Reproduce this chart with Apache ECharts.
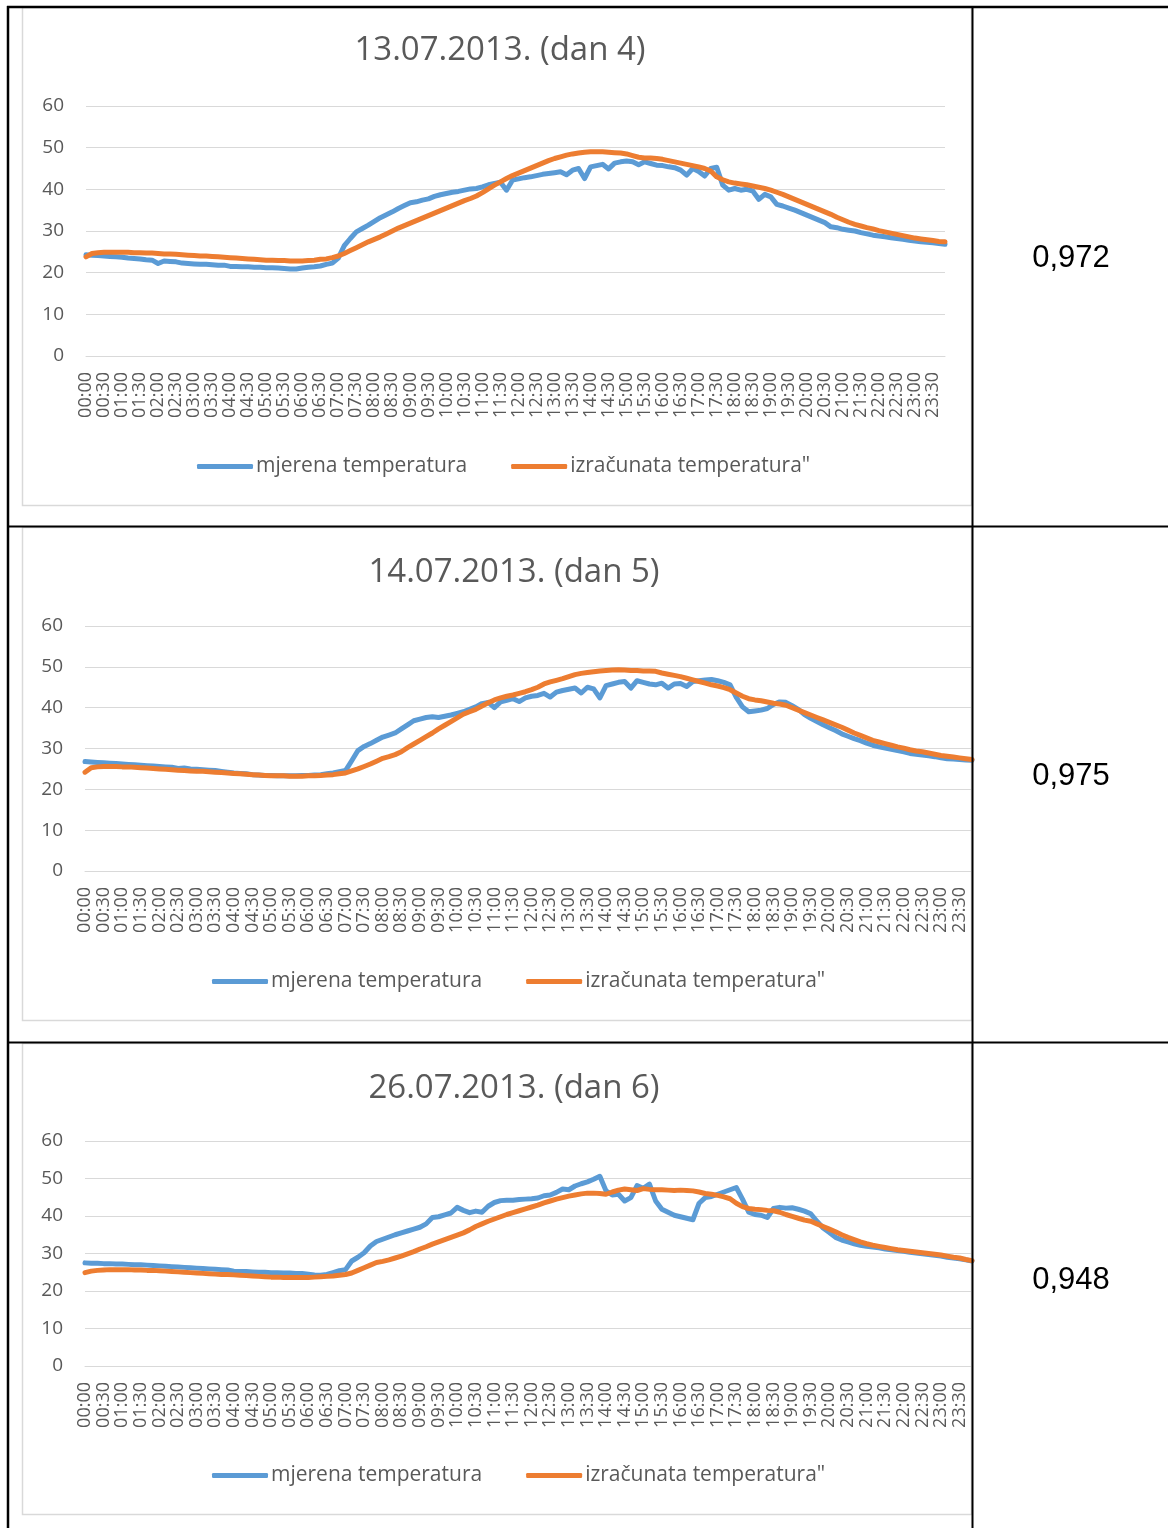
<!DOCTYPE html>
<html>
<head>
<meta charset="utf-8">
<script src="https://cdn.jsdelivr.net/npm/echarts@6/dist/echarts.min.js"></script>
<style>
  html, body { margin: 0; padding: 0; background: #fff; }
  #main { width: 1168px; height: 1528px; }
</style>
</head>
<body>
<div id="main"></div>
<script>
// vremena (svakih 10 min), oznake na osi svakih 30 min
var vremena = [
  '00:00','00:10','00:20','00:30','00:40','00:50','01:00','01:10','01:20','01:30','01:40','01:50',
  '02:00','02:10','02:20','02:30','02:40','02:50','03:00','03:10','03:20','03:30','03:40','03:50',
  '04:00','04:10','04:20','04:30','04:40','04:50','05:00','05:10','05:20','05:30','05:40','05:50',
  '06:00','06:10','06:20','06:30','06:40','06:50','07:00','07:10','07:20','07:30','07:40','07:50',
  '08:00','08:10','08:20','08:30','08:40','08:50','09:00','09:10','09:20','09:30','09:40','09:50',
  '10:00','10:10','10:20','10:30','10:40','10:50','11:00','11:10','11:20','11:30','11:40','11:50',
  '12:00','12:10','12:20','12:30','12:40','12:50','13:00','13:10','13:20','13:30','13:40','13:50',
  '14:00','14:10','14:20','14:30','14:40','14:50','15:00','15:10','15:20','15:30','15:40','15:50',
  '16:00','16:10','16:20','16:30','16:40','16:50','17:00','17:10','17:20','17:30','17:40','17:50',
  '18:00','18:10','18:20','18:30','18:40','18:50','19:00','19:10','19:20','19:30','19:40','19:50',
  '20:00','20:10','20:20','20:30','20:40','20:50','21:00','21:10','21:20','21:30','21:40','21:50',
  '22:00','22:10','22:20','22:30','22:40','22:50','23:00','23:10','23:20','23:30','23:40','23:50'
];

var naslovi = ['13.07.2013. (dan 4)', '14.07.2013. (dan 5)', '26.07.2013. (dan 6)'];
var koeficijenti = ['0,972', '0,975', '0,948'];
var nazivMjerena = 'mjerena temperatura';
var nazivIzracunata = 'izračunata temperatura"';

// dan 4
var mjerena1 = [
  24.3,24.2,24.1,24.0,23.9,23.8,23.7,23.5,23.4,23.3,23.1,23.0,
  22.2,22.8,22.7,22.6,22.3,22.2,22.1,22.0,22.0,21.9,21.8,21.8,
  21.5,21.5,21.4,21.4,21.3,21.3,21.2,21.2,21.1,21.0,20.9,20.9,
  21.1,21.3,21.4,21.6,22.0,22.3,23.5,26.5,28.2,29.8,30.6,31.4,
  32.3,33.2,33.9,34.6,35.4,36.1,36.8,37.0,37.4,37.7,38.3,38.7,
  39.0,39.3,39.5,39.8,40.1,40.2,40.6,41.1,41.4,41.7,39.8,42.2,
  42.5,42.8,43.0,43.3,43.6,43.8,44.0,44.2,43.5,44.6,45.0,42.6,
  45.4,45.7,46.0,44.9,46.3,46.6,46.8,46.6,45.9,46.6,46.2,45.8,
  45.7,45.4,45.2,44.6,43.4,45.0,44.3,43.2,45.0,45.3,41.0,39.8,
  40.2,39.8,40.0,39.6,37.6,38.8,38.2,36.4,36.0,35.5,35.0,34.4,
  33.8,33.2,32.6,32.0,31.0,30.8,30.4,30.2,30.0,29.6,29.3,29.0,
  28.8,28.6,28.4,28.2,28.0,27.8,27.6,27.4,27.3,27.2,27.0,26.8
];
var izracunata1 = [
  23.8,24.6,24.8,24.9,24.9,24.9,24.9,24.9,24.8,24.8,24.7,24.7,
  24.6,24.5,24.5,24.4,24.3,24.2,24.1,24.0,24.0,23.9,23.8,23.7,
  23.6,23.5,23.4,23.3,23.2,23.1,23.0,23.0,22.9,22.9,22.8,22.8,
  22.8,22.9,23.0,23.2,23.3,23.6,24.0,24.6,25.3,26.0,26.7,27.4,
  28.0,28.6,29.3,30.0,30.7,31.3,31.9,32.5,33.1,33.7,34.3,34.9,
  35.5,36.1,36.7,37.3,37.8,38.4,39.2,40.1,41.0,41.8,42.6,43.3,
  43.9,44.5,45.1,45.7,46.3,46.9,47.4,47.8,48.2,48.5,48.7,48.9,
  49.0,49.0,49.0,48.9,48.8,48.7,48.5,48.1,47.7,47.5,47.5,47.4,
  47.2,46.9,46.6,46.3,46.0,45.7,45.4,45.0,44.4,43.0,42.3,41.8,
  41.5,41.3,41.1,40.8,40.5,40.2,39.8,39.3,38.8,38.2,37.6,37.0,
  36.4,35.8,35.2,34.6,34.0,33.3,32.7,32.1,31.6,31.2,30.8,30.5,
  30.1,29.8,29.5,29.2,28.9,28.6,28.3,28.1,27.9,27.7,27.5,27.4
];

// dan 5
var mjerena2 = [
  26.8,26.7,26.6,26.5,26.4,26.3,26.2,26.1,26.0,25.9,25.8,25.7,
  25.6,25.5,25.4,25.1,25.2,25.0,24.9,24.8,24.7,24.6,24.4,24.2,
  24.0,23.9,23.8,23.6,23.5,23.4,23.4,23.3,23.3,23.3,23.3,23.4,
  23.4,23.5,23.6,23.8,24.0,24.3,24.6,27.0,29.5,30.5,31.2,32.0,
  32.8,33.3,33.8,34.8,35.8,36.8,37.2,37.6,37.8,37.6,37.9,38.2,
  38.6,39.0,39.6,40.2,41.0,41.3,40.0,41.4,41.8,42.2,41.5,42.4,
  42.8,43.0,43.5,42.6,43.8,44.2,44.5,44.8,43.6,45.0,44.6,42.4,
  45.4,45.8,46.2,46.4,44.8,46.6,46.2,45.8,45.6,46.0,44.8,45.8,
  45.9,45.2,46.4,46.6,46.8,46.9,46.6,46.2,45.6,42.5,40.2,39.0,
  39.2,39.4,39.8,40.8,41.4,41.3,40.5,39.6,38.3,37.4,36.6,35.8,
  35.1,34.4,33.6,33.0,32.4,31.9,31.3,30.8,30.4,30.1,29.8,29.5,
  29.2,28.8,28.6,28.4,28.2,28.0,27.7,27.5,27.4,27.3,27.2,27.1
];
var izracunata2 = [
  24.2,25.3,25.5,25.6,25.6,25.6,25.5,25.5,25.4,25.3,25.2,25.1,
  25.0,24.9,24.8,24.7,24.6,24.5,24.4,24.4,24.3,24.2,24.1,24.0,
  23.9,23.8,23.7,23.6,23.5,23.4,23.3,23.3,23.3,23.2,23.2,23.2,
  23.3,23.3,23.4,23.5,23.6,23.8,24.0,24.5,25.0,25.6,26.2,26.9,
  27.6,28.0,28.5,29.2,30.2,31.1,32.0,32.9,33.8,34.8,35.7,36.6,
  37.5,38.4,39.0,39.6,40.4,41.2,41.9,42.4,42.8,43.1,43.5,43.9,
  44.4,45.0,45.8,46.3,46.7,47.1,47.6,48.1,48.4,48.6,48.8,49.0,
  49.1,49.2,49.3,49.2,49.1,49.1,49.0,49.0,48.9,48.5,48.2,47.9,
  47.6,47.2,46.8,46.4,46.0,45.6,45.3,44.9,44.4,43.6,42.8,42.2,
  41.9,41.7,41.4,41.1,40.9,40.6,40.0,39.4,38.8,38.2,37.6,37.0,
  36.4,35.8,35.2,34.5,33.8,33.2,32.6,32.0,31.6,31.2,30.8,30.4,
  30.1,29.7,29.4,29.2,28.9,28.6,28.3,28.1,27.9,27.7,27.5,27.3
];

// dan 6
var mjerena3 = [
  27.5,27.4,27.4,27.3,27.3,27.2,27.2,27.1,27.0,27.0,26.9,26.8,
  26.7,26.6,26.5,26.4,26.3,26.2,26.1,26.0,25.9,25.8,25.7,25.6,
  25.3,25.2,25.2,25.1,25.0,25.0,24.9,24.9,24.8,24.8,24.7,24.7,
  24.5,24.3,24.2,24.4,24.9,25.4,25.7,28.0,29.0,30.2,32.0,33.2,
  33.8,34.4,35.0,35.5,36.0,36.5,37.0,37.9,39.6,39.8,40.3,40.8,
  42.3,41.5,40.9,41.3,41.0,42.6,43.6,44.1,44.2,44.2,44.4,44.5,
  44.6,44.8,45.4,45.6,46.3,47.2,47.0,48.0,48.6,49.1,49.8,50.6,
  46.7,45.6,45.8,44.0,44.9,48.1,47.4,48.5,44.0,41.8,41.0,40.2,
  39.8,39.4,39.0,43.4,44.9,45.2,45.8,46.4,47.0,47.6,44.5,41.0,
  40.4,40.2,39.6,42.0,42.3,42.1,42.2,41.8,41.3,40.6,38.6,36.8,
  35.6,34.3,33.6,33.1,32.6,32.2,31.9,31.7,31.5,31.2,31.0,30.8,
  30.6,30.3,30.1,29.9,29.7,29.5,29.3,29.0,28.8,28.6,28.3,28.0
];
var izracunata3 = [
  24.9,25.3,25.5,25.6,25.7,25.7,25.7,25.7,25.6,25.6,25.5,25.5,
  25.4,25.3,25.2,25.1,25.0,24.9,24.8,24.7,24.6,24.5,24.4,24.4,
  24.3,24.2,24.1,24.0,23.9,23.8,23.7,23.7,23.6,23.6,23.6,23.6,
  23.6,23.7,23.8,23.9,24.0,24.2,24.4,24.8,25.5,26.2,26.9,27.6,
  27.9,28.3,28.8,29.3,29.9,30.5,31.2,31.8,32.5,33.1,33.7,34.3,
  34.9,35.5,36.3,37.2,37.9,38.6,39.2,39.8,40.4,40.9,41.4,41.9,
  42.4,42.9,43.5,44.0,44.5,44.9,45.3,45.6,45.9,46.1,46.1,46.0,
  45.8,46.4,46.9,47.2,47.0,46.8,47.3,47.1,47.0,47.0,46.9,46.8,
  46.9,46.8,46.7,46.4,46.0,45.8,45.5,45.1,44.6,43.4,42.5,42.0,
  41.8,41.7,41.5,41.4,41.0,40.4,39.9,39.4,38.9,38.6,37.9,37.2,
  36.5,35.8,35.0,34.3,33.7,33.1,32.6,32.2,31.9,31.6,31.3,31.0,
  30.8,30.6,30.4,30.2,30.0,29.8,29.6,29.3,29.0,28.8,28.4,28.1
];

var mjereneSerije = [mjerena1, mjerena2, mjerena3];
var izracunateSerije = [izracunata1, izracunata2, izracunata3];

// raspored tri grafikona (pikseli)
var raspored = [
  { gridTop: 106, gridH: 250, gridL: 86, gridW: 859, titleX: 500, titleY: 34, legendL: 197, legendY: 455, valY: 258 },
  { gridTop: 626, gridH: 245, gridL: 85, gridW: 887, titleX: 514, titleY: 556, legendL: 212, legendY: 970, valY: 776 },
  { gridTop: 1141, gridH: 225, gridL: 85, gridW: 887, titleX: 514, titleY: 1072, legendL: 212, legendY: 1464, valY: 1280 }
];

var siva = '#595959';
var plava = '#5b9bd5';
var narancasta = '#ed7d31';
var font = '"Open Sans", "Noto Sans", sans-serif';

var myChart = echarts.init(document.getElementById('main'), null, { renderer: 'canvas' });

var option = {
  backgroundColor: '#fff',
  animation: false,
  title: [], legend: [], grid: [], xAxis: [], yAxis: [], series: [],
  graphic: []
};

raspored.forEach(function (r, i) {
  option.title.push({
    text: naslovi[i],
    left: r.titleX, top: r.titleY, textAlign: 'center', padding: 0,
    textStyle: { color: siva, fontSize: 33, fontWeight: 'normal', fontFamily: font }
  });
  option.legend.push({
    data: [nazivMjerena, nazivIzracunata],
    left: r.legendL, top: r.legendY + 1, padding: 0,
    icon: 'roundRect', itemWidth: 56, itemHeight: 5, itemGap: 44,
    textStyle: { color: siva, fontSize: 21, fontFamily: font, padding: [0, 0, 0, -2] }
  });
  option.grid.push({ left: r.gridL, top: r.gridTop, width: r.gridW, height: r.gridH, containLabel: false });
  option.xAxis.push({
    type: 'category', gridIndex: i, data: vremena, boundaryGap: false,
    axisLine: { show: true, lineStyle: { color: '#d9d9d9', width: 1 } },
    axisTick: { show: false },
    axisLabel: { interval: 2, rotate: 90, margin: 16, color: siva, fontSize: 18, fontFamily: font, lineHeight: 14 }
  });
  option.yAxis.push({
    type: 'value', gridIndex: i, min: 0, max: 60, interval: 10,
    axisLine: { show: false }, axisTick: { show: false },
    splitLine: { lineStyle: { color: '#d9d9d9', width: 1.2 } },
    axisLabel: { margin: 22, color: siva, fontSize: 19, fontFamily: font }
  });
  option.series.push({
    name: nazivMjerena, type: 'line', xAxisIndex: i, yAxisIndex: i,
    data: mjereneSerije[i], showSymbol: false, symbol: 'none', color: plava,
    lineStyle: { width: 5, color: plava, cap: 'round', join: 'round' }
  });
  option.series.push({
    name: nazivIzracunata, type: 'line', xAxisIndex: i, yAxisIndex: i,
    data: izracunateSerije[i], showSymbol: false, symbol: 'none', color: narancasta,
    lineStyle: { width: 5, color: narancasta, cap: 'round', join: 'round' }
  });
  // koeficijent u desnom stupcu
  option.graphic.push({
    type: 'text', x: 1071, y: r.valY, z: 100,
    style: { text: koeficijenti[i], fill: '#000', fontSize: 31, fontFamily: '"Liberation Sans", Arial, sans-serif', align: 'center', verticalAlign: 'middle' }
  });
});

// okviri grafikona (svijetlo sivi)
[[22, 7, 949, 498], [22, 527, 949, 493], [22, 1043, 949, 471]].forEach(function (b) {
  option.graphic.push({
    type: 'rect', z: 0, silent: true,
    shape: { x: b[0] + 0.5, y: b[1] + 0.5, width: b[2], height: b[3] },
    style: { fill: 'none', stroke: '#d9d9d9', lineWidth: 1.5 }
  });
});

// linije tablice
var crte = [
  [8, 6, 8, 1528, 2.5], [7, 7, 1168, 7, 2.5], [972.5, 6, 972.5, 1528, 2],
  [8, 526.5, 1168, 526.5, 2], [8, 1042.5, 1168, 1042.5, 2]
];
crte.forEach(function (c) {
  option.graphic.push({
    type: 'line', z: 100, silent: true,
    shape: { x1: c[0], y1: c[1], x2: c[2], y2: c[3] },
    style: { stroke: '#000', lineWidth: c[4] }
  });
});

myChart.setOption(option, true);
</script>
</body>
</html>
